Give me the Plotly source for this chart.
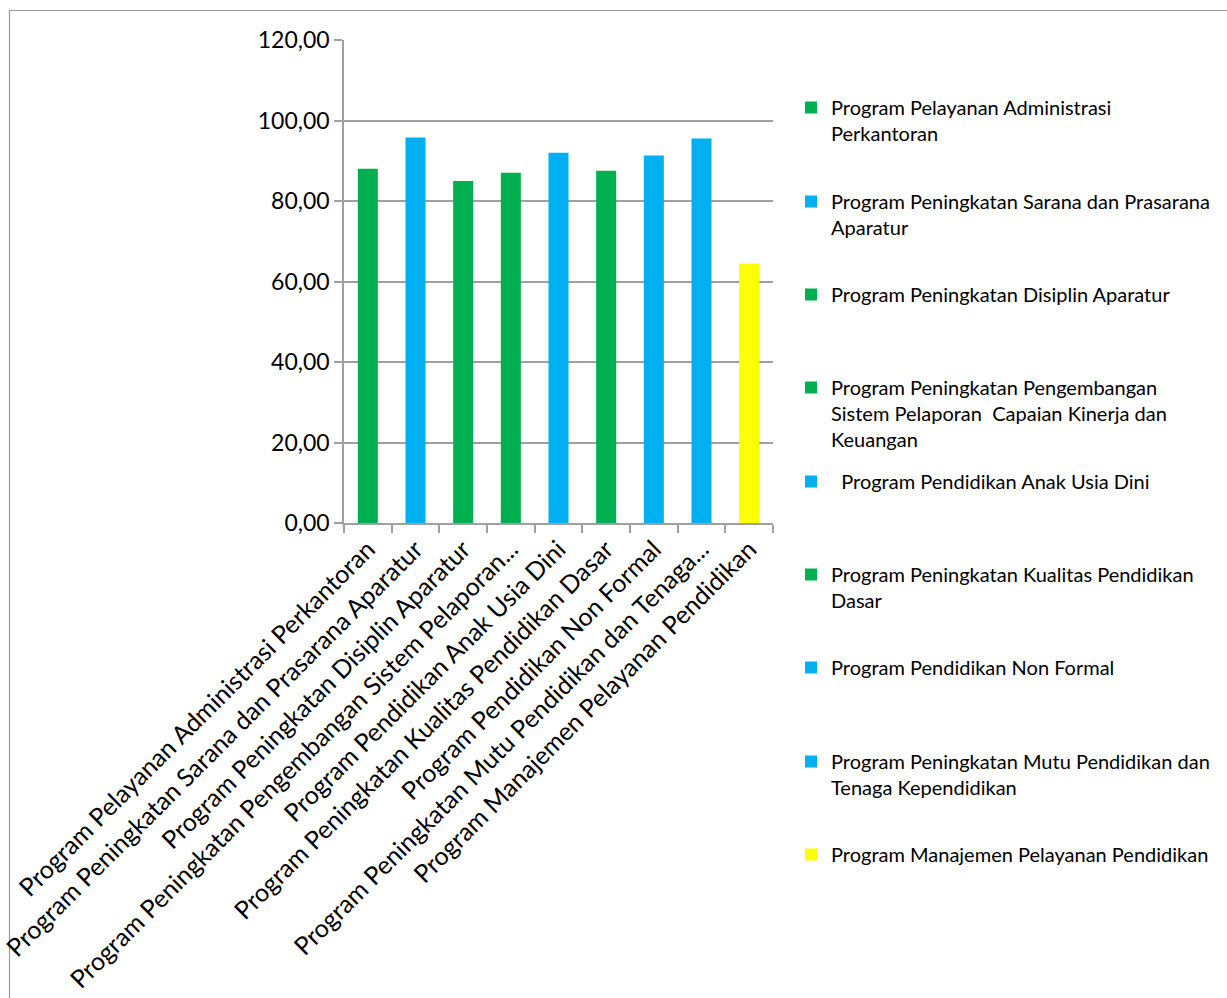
import plotly.graph_objects as go

categories = [
    "Program Pelayanan Administrasi Perkantoran",
    "Program Peningkatan Sarana dan Prasarana Aparatur",
    "Program Peningkatan Disiplin Aparatur",
    "Program Peningkatan Pengembangan Sistem Pelaporan...",
    "Program Pendidikan Anak Usia Dini",
    "Program Peningkatan Kualitas Pendidikan Dasar",
    "Program Pendidikan Non Formal",
    "Program Peningkatan Mutu Pendidikan dan Tenaga...",
    "Program Manajemen Pelayanan Pendidikan",
]
legend_names = [
    "Program Pelayanan Administrasi<br>Perkantoran",
    "Program Peningkatan Sarana dan Prasarana<br>Aparatur",
    "Program Peningkatan Disiplin Aparatur",
    "Program Peningkatan Pengembangan<br>Sistem Pelaporan &nbsp;Capaian Kinerja dan<br>Keuangan",
    "&nbsp;&nbsp;Program Pendidikan Anak Usia Dini",
    "Program Peningkatan Kualitas Pendidikan<br>Dasar",
    "Program Pendidikan Non Formal",
    "Program Peningkatan Mutu Pendidikan dan<br>Tenaga Kependidikan",
    "Program Manajemen Pelayanan Pendidikan",
]
values = [88.0, 95.8, 85.0, 87.0, 92.0, 87.5, 91.3, 95.5, 64.5]
colors = ["#00B050", "#00B0F0", "#00B050", "#00B050", "#00B0F0",
          "#00B050", "#00B0F0", "#00B0F0", "#FFFF00"]
legend_line_y = [108, 202, 295, 388, 482, 575, 668, 762, 855]

W, H = 1227, 998
L, R, T, B = 344, 773, 40, 523
pw, ph = R - L, B - T

def px_x(x):
    return (x - L) / pw

def px_y(y):
    return (B - y) / ph

FONT = "Lato"
fig = go.Figure()
layout_legends = {}
for i, (c, v, col, nm) in enumerate(zip(categories, values, colors, legend_names)):
    key = "legend" if i == 0 else f"legend{i+1}"
    fig.add_trace(go.Bar(x=[c], y=[v], name=nm, marker_color=col,
                         marker_line_width=0, legend=key))
    layout_legends[key] = dict(
        x=px_x(791), xanchor="left",
        y=px_y(legend_line_y[i] - 20), yanchor="top",
        bgcolor="rgba(0,0,0,0)", valign="top",
        font=dict(family=FONT, size=20, color="#000000"),
        itemwidth=30, tracegroupgap=0,
    )

gridcol = "#a0a0a0"
fig.update_layout(
    width=W, height=H,
    margin=dict(l=L, r=W - R, t=T, b=H - B, autoexpand=False),
    paper_bgcolor="white", plot_bgcolor="white",
    barmode="overlay", bargap=0.58,
    separators=",.",
    showlegend=True,
    font=dict(family=FONT, color="#000000"),
    xaxis=dict(
        type="category", categoryorder="array", categoryarray=categories,
        tickangle=-45, tickson="boundaries", ticks="outside", ticklen=8,
        tickcolor=gridcol, tickwidth=1.5,
        showline=True, linecolor=gridcol, linewidth=1.5,
        showgrid=False, tickfont=dict(family=FONT, size=25, color="#000000"),
        automargin=False,
    ),
    yaxis=dict(
        range=[0, 120], dtick=20, tickformat=".2f",
        ticks="outside", ticklen=8, tickcolor=gridcol, tickwidth=1.5,
        showline=True, linecolor=gridcol, linewidth=1.5,
        showgrid=True, gridcolor=gridcol, gridwidth=1.5,
        zeroline=False,
        tickfont=dict(family=FONT, size=23, color="#000000"),
        automargin=False,
    ),
    shapes=[dict(type="rect", xref="paper", yref="paper",
                 x0=px_x(9.5), x1=px_x(1240), y0=px_y(1010), y1=px_y(10.5),
                 line=dict(color="#9a9a9a", width=1.2), fillcolor="rgba(0,0,0,0)",
                 layer="below")],
    **layout_legends,
)

fig.write_html("out.html")
